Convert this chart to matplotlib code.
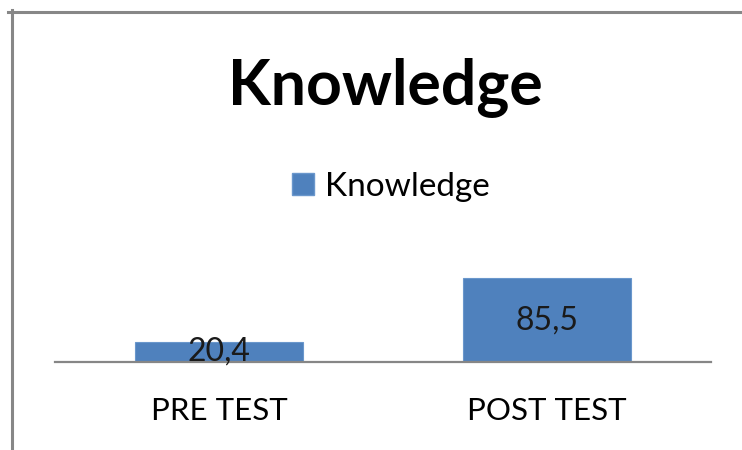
import matplotlib
matplotlib.use("Agg")
import matplotlib.pyplot as plt
from matplotlib.lines import Line2D
from matplotlib.patches import Patch

categories = ["PRE TEST", "POST TEST"]
values = [20.4, 85.5]
value_labels = ["20,4", "85,5"]
series_name = "Knowledge"

plt.rcParams["font.family"] = ["Lato", "DejaVu Sans"]

W, H = 742, 450
fig = plt.figure(figsize=(W / 100, H / 100), dpi=100)

ax = fig.add_axes([55 / W, 1 - 362 / H, 656 / W, 98 / H])
bar_color = "#4F81BD"
x = range(len(categories))
bars = ax.bar(x, values, width=0.51, color=bar_color, edgecolor="#6A97CC", linewidth=0.8)

for b, lab, v in zip(bars, value_labels, values):
    ax.text(b.get_x() + b.get_width() / 2, v / 2, lab, ha="center", va="center",
            fontsize=23, color="#1a1a1a")

ax.set_xlim(-0.5, len(categories) - 0.5)
ax.set_ylim(0, 100)
ax.set_xticks(list(x))
ax.set_xticklabels(categories, fontsize=22.5)
ax.tick_params(axis="x", length=0, pad=25)
ax.set_yticks([])
for s in ["left", "right", "top"]:
    ax.spines[s].set_visible(False)
ax.spines["bottom"].set_color("#868686")
ax.spines["bottom"].set_linewidth(1.6)

fig.text(385 / W, 1 - 87 / H, "Knowledge", ha="center", va="center",
         fontsize=45, fontweight="bold")

fig.legend(handles=[Patch(facecolor=bar_color, edgecolor="#6A97CC", label=series_name)],
           loc="center", bbox_to_anchor=(391 / W, 1 - 187 / H), frameon=False,
           fontsize=24, handlelength=0.65, handleheight=0.65, handletextpad=0.35)

# outer chart frame (top and left only visible)
fig.add_artist(Line2D([8 / W, 1], [1 - 11.5 / H] * 2, color="#878787", linewidth=2.2))
fig.add_artist(Line2D([12.5 / W] * 2, [1 - 10 / H, 0], color="#878787", linewidth=2.2))

fig.savefig("out.png", dpi=100)
